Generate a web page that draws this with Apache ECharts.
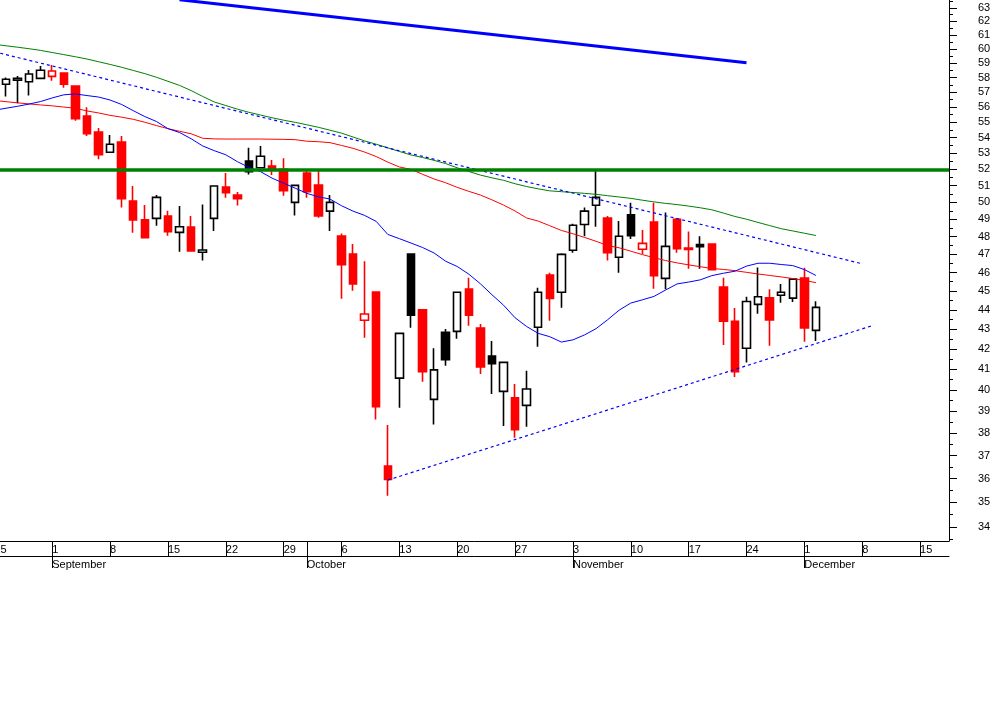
<!DOCTYPE html>
<html><head><meta charset="utf-8">
<script src="https://cdn.jsdelivr.net/npm/echarts@6/dist/echarts.min.js"></script>
<style>html,body{margin:0;padding:0;background:#fff}#c{width:994px;height:720px}</style>
</head><body><div id="c"></div>
<script>
const dates = [
 '2008-08-25','2008-08-26','2008-08-27','2008-08-28','2008-08-29',
 '2008-09-01','2008-09-02','2008-09-03','2008-09-04','2008-09-05',
 '2008-09-08','2008-09-09','2008-09-10','2008-09-11','2008-09-12',
 '2008-09-15','2008-09-16','2008-09-17','2008-09-18','2008-09-19',
 '2008-09-22','2008-09-23','2008-09-24','2008-09-25','2008-09-26',
 '2008-09-29','2008-09-30','2008-10-01','2008-10-02','2008-10-03',
 '2008-10-06','2008-10-07','2008-10-08','2008-10-09','2008-10-10',
 '2008-10-13','2008-10-14','2008-10-15','2008-10-16','2008-10-17',
 '2008-10-20','2008-10-21','2008-10-22','2008-10-23','2008-10-24',
 '2008-10-27','2008-10-28','2008-10-29','2008-10-30','2008-10-31',
 '2008-11-03','2008-11-04','2008-11-05','2008-11-06','2008-11-07',
 '2008-11-10','2008-11-11','2008-11-12','2008-11-13','2008-11-14',
 '2008-11-17','2008-11-18','2008-11-19','2008-11-20','2008-11-21',
 '2008-11-24','2008-11-25','2008-11-26','2008-11-27','2008-11-28',
 '2008-12-01','2008-12-02','2008-12-03','2008-12-04','2008-12-05',
 '2008-12-08','2008-12-09','2008-12-10','2008-12-11','2008-12-12',
 '2008-12-15','2008-12-16','2008-12-17'
];
const opens = [null,
 57.54,57.81,57.71,57.94,58.08,58.31,57.41,55.41,54.36,53.07,
 53.72,50.08,48.97,49.06,49.20,48.25,48.55,47.12,49.06,50.92,
 50.44,52.52,52.10,52.21,52.00,50.00,51.78,51.04,49.48,48.04,
 47.02,43.46,44.95,36.55,40.57,47.02,44.00,39.56,42.84,42.89,
 45.10,43.06,41.65,39.94,39.63,39.28,43.10,45.86,44.93,47.23,
 48.70,49.83,49.08,46.84,49.26,47.29,48.85,45.68,49.01,47.36,
 47.56,47.58,45.21,43.41,42.04,44.29,44.64,44.77,44.62,45.70,42.94];
const closes = [null,
 57.88,57.94,58.24,58.50,58.45,57.54,55.23,54.25,52.92,53.58,
 50.22,48.97,47.95,50.30,48.28,48.57,47.20,47.25,50.98,50.58,
 50.22,51.86,52.82,52.07,50.70,51.02,50.64,49.20,50.00,46.43,
 45.38,43.79,39.22,35.97,42.79,43.72,40.88,40.97,41.47,44.93,
 43.72,41.12,41.27,41.34,38.16,40.05,44.93,44.60,47.00,48.66,
 49.48,50.30,47.09,48.03,48.06,47.62,45.83,47.45,47.32,47.28,
 47.43,46.15,43.41,40.88,44.44,44.69,43.48,44.93,45.64,43.07,44.13];
const lows = [null,
 56.70,56.25,56.77,57.94,57.78,57.30,55.10,54.10,52.63,53.07,
 49.69,48.22,47.95,48.63,48.05,47.15,47.20,46.66,48.33,50.28,
 49.81,51.68,52.10,51.66,50.40,49.22,50.28,49.10,48.33,44.59,
 45.02,42.57,38.63,35.28,39.17,43.08,40.40,38.40,41.17,42.52,
 43.18,40.77,39.81,38.33,37.80,38.29,42.11,43.43,44.11,47.10,
 48.02,48.57,46.66,45.99,47.87,47.02,45.12,45.10,47.09,46.20,
 46.20,46.15,42.20,40.63,41.33,43.80,42.17,44.37,44.42,42.36,42.40];
const highs = [null,
 58.01,58.10,58.52,58.80,58.87,58.35,57.45,55.98,54.62,54.17,
 54.10,50.98,49.85,50.44,49.50,49.79,49.20,49.87,51.02,51.78,
 50.62,53.36,53.47,52.59,52.69,51.02,52.00,51.96,50.44,48.19,
 47.58,46.62,44.95,38.37,42.79,47.02,44.05,42.04,43.01,44.93,
 45.72,43.27,42.40,41.34,40.29,40.93,45.17,45.99,47.06,48.74,
 49.69,52.00,49.20,48.90,49.98,48.38,49.98,49.40,49.08,48.30,
 48.02,47.58,45.72,44.10,44.69,46.28,45.10,45.37,45.69,46.26,44.46];
const maRed = [
 56.44,56.36,56.28,56.21,56.14,56.08,56.00,55.92,55.74,55.61,
 55.45,55.33,55.19,55.00,54.78,54.58,54.41,54.25,53.96,53.92,
 53.91,53.91,53.91,53.91,53.90,53.89,53.87,53.77,53.74,53.68,
 53.50,53.32,53.08,52.80,52.45,52.15,52.00,51.70,51.41,51.18,
 50.90,50.66,50.44,50.15,49.84,49.49,49.08,48.90,48.63,48.36,
 48.17,47.96,47.74,47.50,47.37,47.18,46.99,46.82,46.66,46.53,
 46.42,46.32,46.22,46.17,46.10,46.01,45.92,45.84,45.76,45.67,
 45.57,45.45];
const maBlue = [
 55.79,55.92,56.05,56.20,56.37,56.61,56.82,56.88,56.77,56.67,
 56.47,56.17,55.76,55.37,55.05,54.58,54.33,53.93,53.47,53.17,
 52.91,52.48,52.12,51.86,51.46,51.15,50.85,50.54,50.33,50.20,
 49.80,49.48,49.23,48.88,48.13,47.89,47.64,47.39,47.08,46.62,
 46.33,45.91,45.39,44.80,44.25,43.59,43.14,42.79,42.62,42.35,
 42.46,42.71,43.03,43.49,43.99,44.36,44.53,44.71,45.05,45.38,
 45.48,45.60,45.83,45.96,46.07,46.35,46.51,46.51,46.44,46.38,
 46.16,45.84];
const maGreen = [
 60.34,60.23,60.13,60.02,59.90,59.75,59.60,59.45,59.29,59.10,
 58.91,58.71,58.49,58.27,58.02,57.74,57.46,57.11,56.71,56.34,
 56.10,55.86,55.65,55.47,55.29,55.13,54.99,54.83,54.67,54.48,
 54.29,54.04,53.79,53.58,53.35,53.12,52.90,52.74,52.56,52.36,
 52.10,51.87,51.65,51.48,51.33,51.12,50.95,50.81,50.69,50.64,
 50.59,50.54,50.48,50.40,50.32,50.24,50.13,50.03,49.94,49.87,
 49.78,49.68,49.56,49.37,49.17,49.01,48.82,48.64,48.46,48.33,
 48.20,48.07];
const priceTicks = [34,35,36,37,38,39,40,41,42,43,44,45,46,47,48,49,50,51,52,53,54,55,56,57,58,59,60,61,62,63];
const minorTicks = [33.5,34.5,35.5,36.5,37.5,38.5,39.5,40.5,41.5,42.5,43.5,44.5,45.5,46.5,47.5,48.5,49.5,50.5,51.5,52.5,53.5,54.5,55.5,56.5,57.5,58.5,59.5,60.5,61.5,62.5,63.5];
const resistanceLevel = 52;
const trendThick = [[16, 63.62], [65, 59.03]];
const trendUpper = [[0, 59.80], [75, 46.48]];
const trendLower = [[34, 35.94], [76, 43.21]];
const monthNames = ['January','February','March','April','May','June','July','August','September','October','November','December'];

const yMin = 33.43, yMax = 63.6;
const FONT = 'Liberation Sans, Arial, sans-serif';

const dObj = dates.map(s => { const p = s.split('-').map(Number); return new Date(p[0], p[1]-1, p[2]); });
const isMon = dObj.map(d => d.getDay() === 1);
const isMonthStart = dObj.map((d, i) => i > 0 && d.getMonth() !== dObj[i-1].getMonth());

// colour: red when close below previous close, black otherwise; filled when close below open
let prevClose = null;
const candleData = opens.map((o, i) => {
  if (o == null) return '-';
  const c = closes[i];
  const line = (prevClose != null && c < prevClose) ? '#ff0000' : '#000000';
  const fill = c < o ? line : '#ffffff';
  prevClose = c;
  return {value:[o, c, lows[i], highs[i]],
    itemStyle:{color:fill, color0:fill, borderColor:line, borderColor0:line, borderWidth:1.6}};
});

const lg = v => Math.log10(v);
const chart = echarts.init(document.getElementById('c'), null, {renderer:'canvas'});
chart.setOption({
  animation:false,
  backgroundColor:'#ffffff',
  grid:{left:-11.4, top:0, right:45, bottom:179, containLabel:false, outerBoundsMode:'none'},
  xAxis:[{
    type:'category', data:dates, position:'bottom', boundaryGap:true,
    axisLine:{show:true, lineStyle:{color:'#000', width:1}},
    axisTick:{show:true, alignWithLabel:true, length:15, interval:(i)=>isMon[i]||isMonthStart[i], lineStyle:{color:'#000', width:1}},
    axisLabel:{show:true, interval:(i)=>isMon[i], formatter:(v)=>String(Number(v.split('-')[2])),
      align:'left', margin:2, lineHeight:13, fontSize:11, color:'#000', fontFamily:FONT},
    splitLine:{show:false}
  },{
    type:'category', data:dates, position:'bottom', offset:15, boundaryGap:true,
    axisLine:{show:true, lineStyle:{color:'#000', width:1}},
    axisTick:{show:true, alignWithLabel:true, length:12, interval:(i)=>isMonthStart[i], lineStyle:{color:'#000', width:1}},
    axisLabel:{show:true, interval:(i)=>isMonthStart[i], formatter:(v)=>monthNames[Number(v.split('-')[1])-1],
      align:'left', margin:2, lineHeight:13, fontSize:11, color:'#000', fontFamily:FONT},
    splitLine:{show:false}
  }],
  yAxis:[{
    type:'log', logBase:10, min:yMin, max:yMax, show:false
  },{
    type:'value', min:lg(yMin), max:lg(yMax), position:'right', offset:0,
    axisLine:{show:true, lineStyle:{color:'#000', width:1}},
    axisTick:{show:true, length:8, customValues:priceTicks.map(lg), lineStyle:{color:'#000', width:1}},
    axisLabel:{show:true, customValues:priceTicks.map(lg), formatter:(v)=>String(Math.round(Math.pow(10, v))),
      margin:29, fontSize:11, color:'#000', fontFamily:FONT},
    splitLine:{show:false}
  },{
    type:'value', min:lg(yMin), max:lg(yMax), position:'right', offset:0,
    axisLine:{show:false},
    axisTick:{show:true, length:4, customValues:minorTicks.map(lg), lineStyle:{color:'#000', width:1}},
    axisLabel:{show:false},
    splitLine:{show:false}
  }],
  series:[{
    type:'candlestick', name:'Price', xAxisIndex:0, yAxisIndex:0, data:candleData,
    barWidth:8, itemStyle:{borderWidth:1.6}, z:2
  },{
    type:'line', name:'MA red', xAxisIndex:0, yAxisIndex:0, data:maRed, symbol:'none',
    lineStyle:{color:'#ff0000', width:1}, z:3
  },{
    type:'line', name:'MA blue', xAxisIndex:0, yAxisIndex:0, data:maBlue, symbol:'none',
    lineStyle:{color:'#0000ff', width:1}, z:3
  },{
    type:'line', name:'MA green', xAxisIndex:0, yAxisIndex:0, data:maGreen, symbol:'none',
    lineStyle:{color:'#008000', width:1}, z:3,
    markLine:{silent:true, symbol:['none','none'], label:{show:false},
      lineStyle:{color:'#008000', width:3.5, type:'solid'}, data:[{yAxis:resistanceLevel}]}
  },{
    type:'line', name:'Trend thick', xAxisIndex:0, yAxisIndex:0, data:trendThick, symbol:'none',
    lineStyle:{color:'#0000ff', width:3}, z:4
  },{
    type:'line', name:'Trend upper', xAxisIndex:0, yAxisIndex:0, data:trendUpper, symbol:'none',
    lineStyle:{color:'#0000ff', width:1.2, type:[3,3]}, z:4
  },{
    type:'line', name:'Trend lower', xAxisIndex:0, yAxisIndex:0, data:trendLower, symbol:'none',
    lineStyle:{color:'#0000ff', width:1.2, type:[3,3]}, z:4
  }]
});
</script>
</body></html>
